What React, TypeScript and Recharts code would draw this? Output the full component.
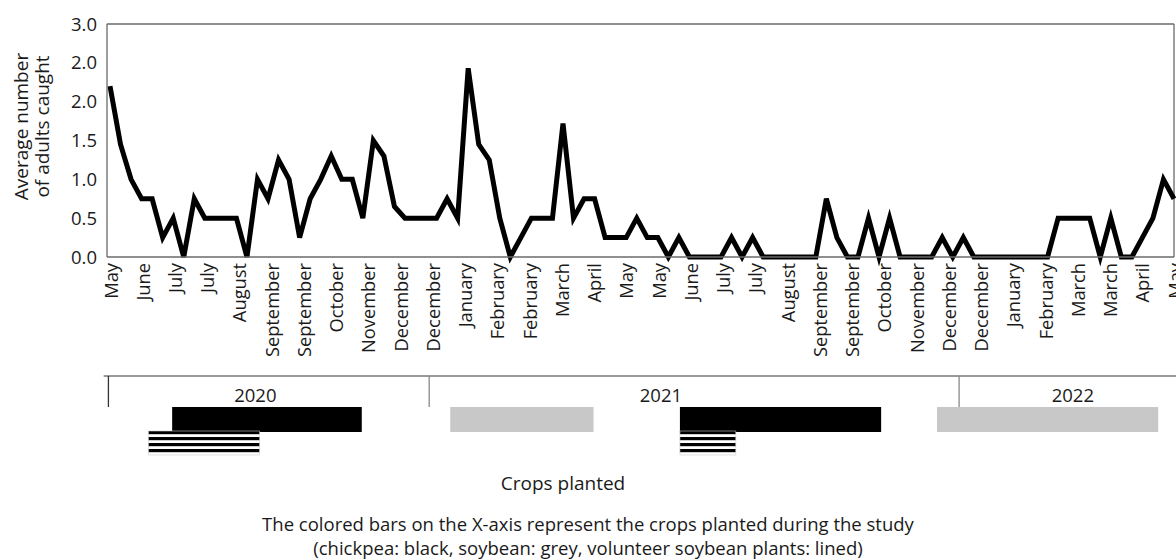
import React from 'react';
import {
  LineChart,
  Line,
  XAxis,
  YAxis,
  ComposedChart,
  ReferenceArea,
  ReferenceLine,
  ReferenceDot,
} from 'recharts';

// average adults caught per sampling date (May 2020 - May 2022)
const adults = [
  2.2, 1.45, 1.0, 0.75, 0.75, 0.25, 0.5, 0, 0.75, 0.5,
  0.5, 0.5, 0.5, 0, 1.0, 0.75, 1.25, 1.0, 0.25, 0.75,
  1.0, 1.3, 1.0, 1.0, 0.5, 1.5, 1.3, 0.65, 0.5, 0.5,
  0.5, 0.5, 0.75, 0.5, 2.43, 1.45, 1.25, 0.5, 0, 0.25,
  0.5, 0.5, 0.5, 1.72, 0.5, 0.75, 0.75, 0.25, 0.25, 0.25,
  0.5, 0.25, 0.25, 0, 0.25, 0, 0, 0, 0, 0.25,
  0, 0.25, 0, 0, 0, 0, 0, 0, 0.75, 0.25,
  0, 0, 0.5, 0, 0.5, 0, 0, 0, 0, 0.25,
  0, 0.25, 0, 0, 0, 0, 0, 0, 0, 0,
  0.5, 0.5, 0.5, 0.5, 0, 0.5, 0, 0, 0.25, 0.5,
  1.0, 0.75,
];

const monthLabels = [
  'May', 'June', 'July', 'July', 'August', 'September', 'September', 'October',
  'November', 'December', 'December', 'January', 'February', 'February', 'March',
  'April', 'May', 'May', 'June', 'July', 'July', 'August', 'September', 'September',
  'October', 'November', 'December', 'December', 'January', 'February', 'March',
  'March', 'April', 'May',
];

const yTicks = [0, 0.5, 1, 1.5, 2, 2.5, 3];
const yTickLabels = ['0.0', '0.5', '1.0', '1.5', '2.0', '2.0', '3.0'];
const yTitle = ['Average number', 'of adults caught'];

// crop periods, in sampling-date units
const chickpea = [
  { start: 5.9, end: 23.9 },
  { start: 54.1, end: 73.2 },
];
const soybean = [
  { start: 32.3, end: 45.9 },
  { start: 78.5, end: 99.5 },
];
const volunteer = [
  { start: 3.65, end: 14.2 },
  { start: 54.1, end: 59.4 },
];
const yearBreaks = [-0.15, 30.3, 80.6];
const years = ['2020', '2021', '2022'];
const yearLabelAt = [13.8, 52.3, 91.4];

const TEXT = '#1a1a1a';
const FRAME = '#6a6a6a';
const FONT = "'Open Sans', 'Noto Sans', sans-serif";

const lastIdx = adults.length - 1;
const labelStep = lastIdx / (monthLabels.length - 1);
const xTicks = monthLabels.map((_, i) => i * labelStep);
const rows = adults.map((v, i) => ({ i, v }));

// lanes for the timeline strip (pixels from its top)
const cropLane = [39, 64];
const volLane = [63, 87];

function MonthTick(props: any) {
  const { x, y, payload } = props;
  const label = monthLabels[Math.round(payload.value / labelStep)];
  return (
    <text
      x={x}
      y={y}
      transform={`rotate(-90 ${x} ${y})`}
      textAnchor="end"
      dominantBaseline="central"
      fill={TEXT}
      fontSize={18.3}
    >
      {label}
    </text>
  );
}

function YTitle(props: any) {
  const vb = props.viewBox || { x: 0, y: 24, height: 233 };
  const cy = vb.y + vb.height / 2 - 14;
  return (
    <g fill={TEXT} fontSize={19}>
      {yTitle.map((t, k) => {
        const cx = vb.x + 21 + k * 21;
        return (
          <text
            key={k}
            x={cx}
            y={cy}
            transform={`rotate(-90 ${cx} ${cy})`}
            textAnchor="middle"
            dominantBaseline="central"
          >
            {t}
          </text>
        );
      })}
    </g>
  );
}

export default function App() {
  return (
    <div
      style={{
        position: 'absolute',
        left: 0,
        top: 0,
        width: 1176,
        height: 559,
        background: '#fff',
        fontFamily: FONT,
        color: TEXT,
        overflow: 'hidden',
      }}
    >
      <div style={{ position: 'absolute', left: 0, top: 0 }}>
        <LineChart
          width={1176}
          height={368}
          data={rows}
          margin={{ top: 24, right: 2, bottom: 11, left: 0 }}
          style={{ fontFamily: FONT }}
        >
          <XAxis
            dataKey="i"
            type="number"
            domain={[0, lastIdx]}
            ticks={xTicks}
            interval={0}
            padding={{ left: 3, right: 0 }}
            height={100}
            tickSize={0}
            tickMargin={6}
            tickLine={false}
            axisLine={{ stroke: FRAME, strokeWidth: 1.3 }}
            tick={<MonthTick />}
          />
          <YAxis
            type="number"
            domain={[0, 3]}
            ticks={yTicks}
            interval={0}
            width={107}
            tickSize={0}
            tickMargin={10}
            tickLine={false}
            axisLine={{ stroke: FRAME, strokeWidth: 1.3 }}
            tick={{ fill: TEXT, fontSize: 18.5 }}
            tickFormatter={(v: number, i: number) => yTickLabels[i]}
            label={<YTitle />}
          />
          {/* frame: top and right edges */}
          <ReferenceLine
            segment={[
              { x: -0.3, y: 3 },
              { x: lastIdx, y: 3 },
            ]}
            stroke={FRAME}
            strokeWidth={1.3}
            ifOverflow="visible"
          />
          <ReferenceLine x={lastIdx} stroke={FRAME} strokeWidth={1.3} ifOverflow="visible" />
          <Line
            type="linear"
            dataKey="v"
            stroke="#000"
            strokeWidth={5}
            dot={false}
            activeDot={false}
            isAnimationActive={false}
          />
        </LineChart>
      </div>

      <div style={{ position: 'absolute', left: 0, top: 368 }}>
        <ComposedChart
          width={1176}
          height={100}
          data={rows}
          margin={{ top: 0, right: 2, bottom: 0, left: 107 }}
          style={{ fontFamily: FONT }}
        >
          <defs>
            <pattern
              id="lined"
              patternUnits="objectBoundingBox"
              x={0}
              y={0}
              width={1}
              height={0.25}
            >
              <rect x={0} y={0} width={3000} height={6} fill="#fff" />
              <rect x={0} y={0} width={3000} height={3.2} fill="#000" />
            </pattern>
          </defs>
          <XAxis
            dataKey="i"
            type="number"
            domain={[0, lastIdx]}
            padding={{ left: 3, right: 0 }}
            hide
          />
          <YAxis type="number" domain={[0, 100]} reversed hide />
          {/* invisible series so the strip's axes get scales */}
          <Line
            dataKey="v"
            stroke="none"
            dot={false}
            activeDot={false}
            isAnimationActive={false}
          />
          <ReferenceLine
            segment={[
              { x: -0.6, y: 8 },
              { x: lastIdx + 0.3, y: 8 },
            ]}
            stroke="#777"
            strokeWidth={1.3}
            ifOverflow="visible"
          />
          {yearBreaks.map((b, k) => (
            <ReferenceLine
              key={'b' + k}
              segment={[
                { x: b, y: 8 },
                { x: b, y: 39 },
              ]}
              stroke={k === 0 ? '#333' : '#888'}
              strokeWidth={1.3}
              ifOverflow="visible"
            />
          ))}
          {years.map((yr, k) => (
            <ReferenceDot
              key={'y' + k}
              x={yearLabelAt[k]}
              y={27}
              r={0}
              fill="none"
              stroke="none"
              ifOverflow="visible"
              label={{ value: yr, position: 'center', fill: TEXT, fontSize: 18.5 }}
            />
          ))}
          {soybean.map((s, k) => (
            <ReferenceArea
              key={'s' + k}
              x1={s.start}
              x2={s.end}
              y1={cropLane[0]}
              y2={cropLane[1]}
              fill="#c8c8c8"
              fillOpacity={1}
              stroke="none"
              ifOverflow="visible"
            />
          ))}
          {chickpea.map((s, k) => (
            <ReferenceArea
              key={'c' + k}
              x1={s.start}
              x2={s.end}
              y1={cropLane[0]}
              y2={cropLane[1]}
              fill="#000"
              fillOpacity={1}
              stroke="none"
              ifOverflow="visible"
            />
          ))}
          {volunteer.map((s, k) => (
            <ReferenceArea
              key={'v' + k}
              x1={s.start}
              x2={s.end}
              y1={volLane[0]}
              y2={volLane[1]}
              fill="url(#lined)"
              fillOpacity={1}
              stroke="#ccc"
              strokeWidth={0.6}
              ifOverflow="visible"
            />
          ))}
        </ComposedChart>
      </div>

      <div
        style={{
          position: 'absolute',
          left: 0,
          top: 471,
          width: 1126,
          textAlign: 'center',
          fontSize: 19,
          lineHeight: '24px',
        }}
      >
        Crops planted
      </div>
      <div
        style={{
          position: 'absolute',
          left: 0,
          top: 512,
          width: 1176,
          textAlign: 'center',
          fontSize: 18.5,
          lineHeight: '24px',
        }}
      >
        The colored bars on the X-axis represent the crops planted during the study
        <br />
        (chickpea: black, soybean: grey, volunteer soybean plants: lined)
      </div>
    </div>
  );
}
